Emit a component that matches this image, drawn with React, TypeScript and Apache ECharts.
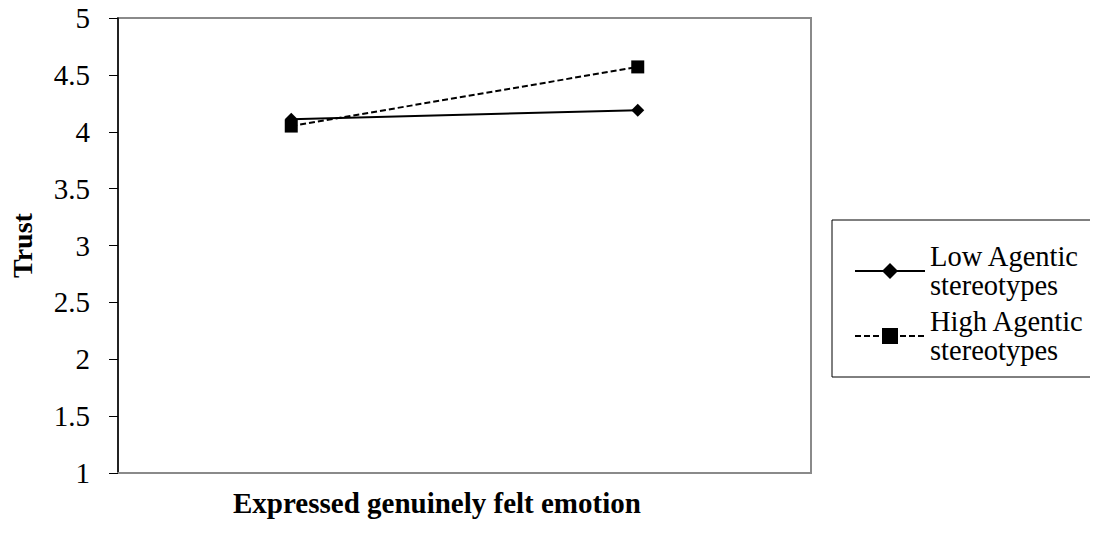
import React, { useEffect, useRef } from "react";
import * as echarts from "echarts";

const categories = ["Low", "High"];
const lowAgentic = [4.11, 4.19];
const highAgentic = [4.05, 4.57];
const seriesNames = ["Low Agentic\nstereotypes", "High Agentic\nstereotypes"];
const xTitle = "Expressed genuinely felt emotion";
const yTitle = "Trust";
const yTicks = { min: 1, max: 5, interval: 0.5 };

export default function App() {
  const ref = useRef<HTMLDivElement>(null);
  useEffect(() => {
    const chart = echarts.init(ref.current!, null, { renderer: "svg" });
    const font = "'Liberation Serif', 'Times New Roman', serif";
    chart.setOption({
      animation: false,
      textStyle: { fontFamily: font, color: "#000" },
      grid: {
        left: 118,
        right: 287,
        top: 18,
        bottom: 63,
        show: true,
        borderColor: "#8a8a8a",
        borderWidth: 2,
        containLabel: false,
        outerBoundsMode: "none",
      },
      xAxis: {
        type: "category",
        data: categories,
        boundaryGap: true,
        axisLine: { lineStyle: { color: "#8a8a8a", width: 2 } },
        axisTick: { show: false },
        axisLabel: { show: false },
        splitLine: { show: false },
      },
      yAxis: {
        type: "value",
        min: yTicks.min,
        max: yTicks.max,
        interval: yTicks.interval,
        name: yTitle,
        nameLocation: "middle",
        nameGap: 82,
        nameRotate: 90,
        nameTextStyle: { fontFamily: font, fontSize: 28, fontWeight: "bold", color: "#000" },
        axisLine: { show: true, lineStyle: { color: "#000", width: 1.5 } },
        axisTick: { show: true, inside: false, length: 9, lineStyle: { color: "#000", width: 1 } },
        axisLabel: { fontFamily: font, fontSize: 29, color: "#000", margin: 28 },
        splitLine: { show: false },
      },
      graphic: [
        {
          type: "text",
          left: 233,
          top: 488,
          style: {
            text: xTitle,
            fontFamily: font,
            fontSize: 29,
            fontWeight: "bold",
            fill: "#000",
          },
        },
      ],
      legend: {
        orient: "vertical",
        left: 832,
        top: 220,
        width: 258,
        padding: [22, 8, 12, 22],
        itemGap: 7,
        itemWidth: 70,
        itemHeight: 20,
        borderColor: "#000",
        borderWidth: 1,
        textStyle: { fontFamily: font, fontSize: 28.5, color: "#000", lineHeight: 29 },
        data: seriesNames,
      },
      series: [
        {
          name: seriesNames[0],
          type: "line",
          data: lowAgentic,
          symbol: "diamond",
          symbolSize: 13,
          itemStyle: { color: "#000" },
          lineStyle: { color: "#000", width: 2, type: "solid" },
        },
        {
          name: seriesNames[1],
          type: "line",
          data: highAgentic,
          symbol: "rect",
          symbolSize: 13,
          itemStyle: { color: "#000" },
          lineStyle: { color: "#000", width: 2, type: [6, 3] },
        },
      ],
    });
    return () => chart.dispose();
  }, []);
  return (
    <div
      ref={ref}
      style={{ width: 1098, height: 536, marginTop: -8, marginLeft: -8 }}
    />
  );
}
